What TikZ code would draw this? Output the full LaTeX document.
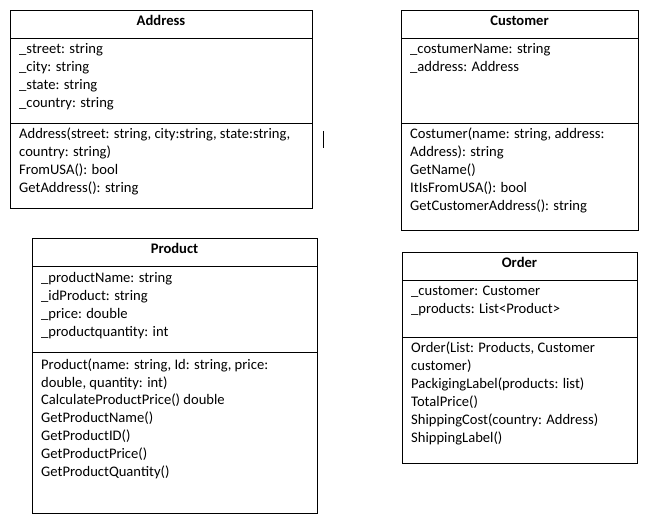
\documentclass[tikz,border=0pt]{standalone}
\usepackage{fontspec}
\setmainfont{Carlito}
\begin{document}
\begin{tikzpicture}[x=1pt,y=-1pt,
  box/.style={draw, line width=0.9pt, rectangle, inner sep=0pt, anchor=north west},
  sep/.style={line width=0.9pt},
  ttl/.style={font=\fontsize{14.6}{18}\selectfont\bfseries, anchor=base, inner sep=0pt, yshift=-0.8pt},
  txt/.style={font=\fontsize{14.6}{18}\selectfont, anchor=base west, inner sep=0pt, yshift=-0.8pt}]
\useasboundingbox[fill=white] (0,0) rectangle (653,518);

% ---------- Address ----------
\node[box, minimum width=302pt, minimum height=198pt] (addr) at (10,10) {};
\draw[sep] ([yshift=-28pt]addr.north west) -- ([yshift=-28pt]addr.north east);
\draw[sep] ([yshift=-113pt]addr.north west) -- ([yshift=-113pt]addr.north east);
\node[ttl] (addrT) at (161,24.5) {Address};
\node[txt] (a1) at (19,53) {\_street: string};
\node[txt] (a2) at (19,71) {\_city: string};
\node[txt] (a3) at (19,89) {\_state: string};
\node[txt] (a4) at (19,107) {\_country: string};
\node[txt] (a5) at (19,138) {Address(street: string, city:string, state:string,};
\node[txt] (a6) at (19,156) {country: string)};
\node[txt] (a7) at (19,174) {FromUSA(): bool};
\node[txt] (a8) at (19,192) {GetAddress(): string};

% small vertical mark
\draw[line width=0.9pt] (323.5,131) -- (323.5,148);

% ---------- Customer ----------
\node[box, minimum width=237pt, minimum height=220pt] (cust) at (401,10) {};
\draw[sep] ([yshift=-28pt]cust.north west) -- ([yshift=-28pt]cust.north east);
\draw[sep] ([yshift=-113pt]cust.north west) -- ([yshift=-113pt]cust.north east);
\node[ttl] (custT) at (519.5,24.5) {Customer};
\node[txt] (c1) at (410,53) {\_costumerName: string};
\node[txt] (c2) at (410,71) {\_address: Address};
\node[txt] (c3) at (410,138) {Costumer(name: string, address:};
\node[txt] (c4) at (410,156) {Address): string};
\node[txt] (c5) at (410,174) {GetName()};
\node[txt] (c6) at (410,192) {ItIsFromUSA(): bool};
\node[txt] (c7) at (410,210) {GetCustomerAddress(): string};

% ---------- Product ----------
\node[box, minimum width=285pt, minimum height=275pt] (prod) at (32,238) {};
\draw[sep] ([yshift=-28pt]prod.north west) -- ([yshift=-28pt]prod.north east);
\draw[sep] ([yshift=-114pt]prod.north west) -- ([yshift=-114pt]prod.north east);
\node[ttl] (prodT) at (174.5,252.5) {Product};
\node[txt] (p1) at (41,281.5) {\_productName: string};
\node[txt] (p2) at (41,299.5) {\_idProduct: string};
\node[txt] (p3) at (41,317.5) {\_price: double};
\node[txt] (p4) at (41,335.5) {\_productquantity: int};
\node[txt] (p5) at (41,368.5) {Product(name: string, Id: string, price:};
\node[txt] (p6) at (41,386.3) {double, quantity: int)};
\node[txt] (p7) at (41,404.1) {CalculateProductPrice() double};
\node[txt] (p8) at (41,421.9) {GetProductName()};
\node[txt] (p9) at (41,439.7) {GetProductID()};
\node[txt] (p10) at (41,457.5) {GetProductPrice()};
\node[txt] (p11) at (41,475.3) {GetProductQuantity()};

% ---------- Order ----------
\node[box, minimum width=235pt, minimum height=211pt] (ord) at (402,252) {};
\draw[sep] ([yshift=-28pt]ord.north west) -- ([yshift=-28pt]ord.north east);
\draw[sep] ([yshift=-85pt]ord.north west) -- ([yshift=-85pt]ord.north east);
\node[ttl] (ordT) at (519.5,266.5) {Order};
\node[txt] (o1) at (411,295) {\_customer: Customer};
\node[txt] (o2) at (411,313) {\_products: List<Product>};
\node[txt] (o3) at (411,351.5) {Order(List: Products, Customer};
\node[txt] (o4) at (411,369.5) {customer)};
\node[txt] (o5) at (411,387.5) {PackigingLabel(products: list)};
\node[txt] (o6) at (411,405.5) {TotalPrice()};
\node[txt] (o7) at (411,423.5) {ShippingCost(country: Address)};
\node[txt] (o8) at (411,441.5) {ShippingLabel()};
\end{tikzpicture}
\end{document}
